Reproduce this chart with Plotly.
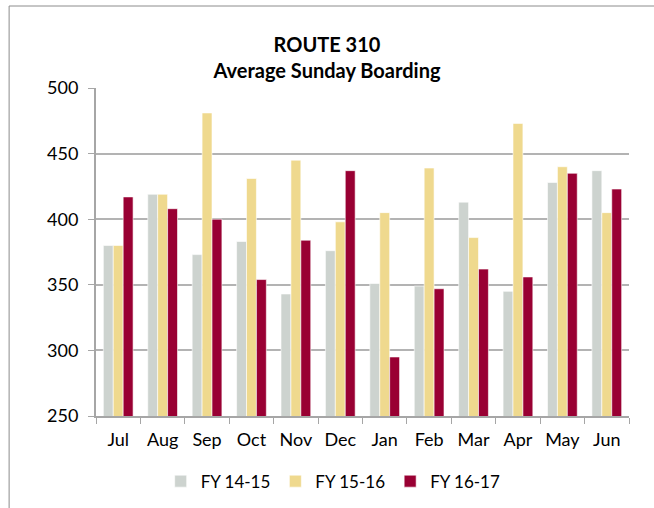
import plotly.graph_objects as go

MONTHS = ["Jul", "Aug", "Sep", "Oct", "Nov", "Dec", "Jan", "Feb", "Mar", "Apr", "May", "Jun"]
FY_14_15 = [380, 419, 373, 383, 343, 376, 351, 349, 413, 345, 428, 437]
FY_15_16 = [380, 419, 481, 431, 445, 398, 405, 439, 386, 473, 440, 405]
FY_16_17 = [417, 408, 400, 354, 384, 437, 295, 347, 362, 356, 435, 423]

GRAY = "#CDD3CF"
SAND = "#EFD98E"
MAROON = "#990033"
LINE = "#A6A6A6"
INK = "#000000"
FONT = "Lato, 'Open Sans', sans-serif"

fig = go.Figure()
for name, vals, color in [
    ("FY 14-15", FY_14_15, GRAY),
    ("FY 15-16", FY_15_16, SAND),
    ("FY 16-17", FY_16_17, MAROON),
]:
    fig.add_trace(
        go.Bar(
            x=MONTHS,
            y=vals,
            name=name,
            marker=dict(color=color, line=dict(color="white", width=0.6)),
        )
    )

# outer chart frame (left and top edges visible)
frame = dict(type="line", xref="paper", yref="paper", line=dict(color="#8C8C8C", width=1))
fig.add_shape(**frame, x0=-0.163, x1=-0.163, y0=1.25, y1=-0.32)
fig.add_shape(**frame, x0=-0.163, x1=1.06, y0=1.25, y1=1.25)

fig.update_layout(
    width=654,
    height=508,
    autosize=False,
    paper_bgcolor="white",
    plot_bgcolor="white",
    font=dict(family=FONT, color=INK, size=17),
    margin=dict(l=96, r=25, t=88, b=92, autoexpand=False),
    title=dict(
        text="<b>ROUTE 310<br>Average Sunday Boarding</b>",
        x=0.5,
        xref="container",
        xanchor="center",
        y=1 - 52 / 508,
        yanchor="top",
        font=dict(family=FONT, size=20, color=INK),
    ),
    barmode="group",
    bargap=0.33,
    bargroupgap=0,
    showlegend=True,
    legend=dict(
        orientation="h",
        x=0.445,
        xanchor="center",
        y=-0.2,
        yanchor="middle",
        font=dict(family=FONT, size=17, color=INK),
        traceorder="normal",
    ),
    xaxis=dict(
        showline=True,
        linecolor=LINE,
        linewidth=2,
        ticks="outside",
        tickson="boundaries",
        ticklen=6,
        tickcolor=LINE,
        showgrid=False,
        tickangle=0,
        ticklabelstandoff=6,
        tickfont=dict(size=18),
    ),
    yaxis=dict(
        range=[250, 500],
        tickvals=[250, 300, 350, 400, 450, 500],
        showline=True,
        linecolor=LINE,
        linewidth=2,
        ticks="outside",
        ticklen=6,
        tickcolor=LINE,
        gridcolor="#B3B3B3",
        gridwidth=1.5,
        ticklabelstandoff=6,
        tickfont=dict(size=18),
        zeroline=False,
    ),
)

# drop the default page margin so the figure sits at the window's corner
fig.write_html(
    "out.html",
    config={"displayModeBar": False},
    post_script="document.body.style.margin='0';",
)
